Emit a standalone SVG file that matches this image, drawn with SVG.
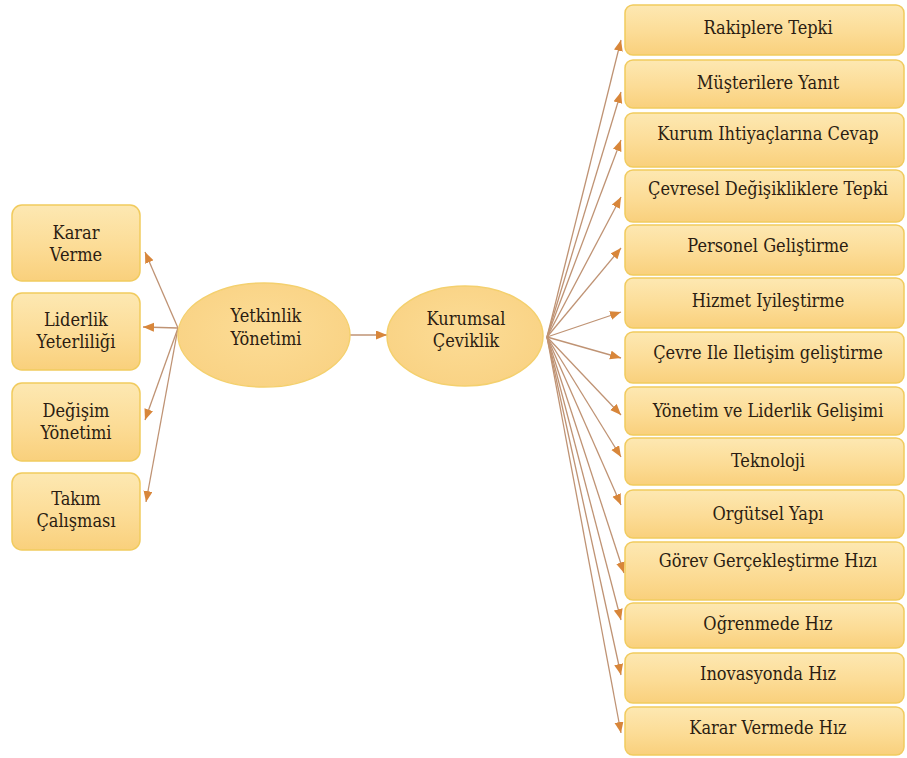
<svg xmlns="http://www.w3.org/2000/svg" width="907" height="758" viewBox="0 0 907 758">
<defs>
<linearGradient id="boxg" x1="0" y1="0" x2="0" y2="1">
<stop offset="0" stop-color="#fde8b2"/>
<stop offset="0.55" stop-color="#fcdc96"/>
<stop offset="1" stop-color="#f9d07c"/>
</linearGradient>
<radialGradient id="ellg" cx="0.5" cy="0.45" r="0.6">
<stop offset="0" stop-color="#fcdc96"/>
<stop offset="1" stop-color="#f9d283"/>
</radialGradient>
<marker id="ah" markerUnits="userSpaceOnUse" markerWidth="12" markerHeight="10" refX="11" refY="4.5" orient="auto">
<path d="M0,0 L11,4.5 L0,9 z" fill="#d8863a"/>
</marker>
<style>
.box{fill:url(#boxg);stroke:#f1cb5e;stroke-width:1.5}
.ell{fill:url(#ellg);stroke:#f4d06e;stroke-width:1.5}
.t{font-family:"DejaVu Serif Condensed","DejaVu Serif",serif;font-stretch:condensed;font-size:18px;fill:#2b1d12;text-anchor:middle}
.c{stroke:#bf9374;stroke-width:1.3;fill:none;marker-end:url(#ah)}
</style>
</defs>
<g id="connectors">
<line class="c" x1="178" y1="328" x2="145" y2="252"/>
<line class="c" x1="178" y1="328" x2="143" y2="327"/>
<line class="c" x1="178" y1="328" x2="145" y2="420"/>
<line class="c" x1="178" y1="328" x2="146" y2="502"/>
<line class="c" x1="350" y1="335" x2="387" y2="335"/>
<line class="c" x1="547" y1="337" x2="621" y2="40"/>
<line class="c" x1="547" y1="337" x2="621" y2="92"/>
<line class="c" x1="547" y1="337" x2="621" y2="140"/>
<line class="c" x1="547" y1="337" x2="621" y2="197"/>
<line class="c" x1="547" y1="337" x2="621" y2="248"/>
<line class="c" x1="547" y1="337" x2="621" y2="312"/>
<line class="c" x1="547" y1="337" x2="621" y2="358"/>
<line class="c" x1="547" y1="337" x2="621" y2="415"/>
<line class="c" x1="547" y1="337" x2="621" y2="457"/>
<line class="c" x1="547" y1="337" x2="621" y2="505"/>
<line class="c" x1="547" y1="337" x2="624" y2="573"/>
<line class="c" x1="547" y1="337" x2="621" y2="620"/>
<line class="c" x1="547" y1="337" x2="621" y2="675"/>
<line class="c" x1="547" y1="337" x2="621" y2="733"/>
</g>
<g id="karar-verme"><rect class="box" x="12" y="205" width="128" height="76" rx="10"/><text class="t" x="76" y="239">Karar</text><text class="t" x="76" y="261">Verme</text></g>
<g id="liderlik"><rect class="box" x="12" y="293" width="128" height="77" rx="10"/><text class="t" x="76" y="326">Liderlik</text><text class="t" x="76" y="348">Yeterliliği</text></g>
<g id="degisim"><rect class="box" x="12" y="383" width="128" height="78" rx="10"/><text class="t" x="76" y="417">Değişim</text><text class="t" x="76" y="439">Yönetimi</text></g>
<g id="takim"><rect class="box" x="12" y="473" width="128" height="77" rx="10"/><text class="t" x="76" y="505">Takım</text><text class="t" x="76" y="527">Çalışması</text></g>
<g id="yetkinlik"><ellipse class="ell" cx="264" cy="335" rx="86" ry="52"/><text class="t" x="266" y="322">Yetkinlik</text><text class="t" x="266" y="345">Yönetimi</text></g>
<g id="kurumsal"><ellipse class="ell" cx="465" cy="336" rx="78" ry="50"/><text class="t" x="466" y="325">Kurumsal</text><text class="t" x="466" y="347">Çeviklik</text></g>
<g id="r1"><rect class="box" x="625" y="5" width="279" height="50" rx="8"/><text class="t" x="768" y="34">Rakiplere Tepki</text></g>
<g id="r2"><rect class="box" x="625" y="60" width="279" height="48" rx="8"/><text class="t" x="768" y="89">Müşterilere Yanıt</text></g>
<g id="r3"><rect class="box" x="625" y="113" width="279" height="54" rx="8"/><text class="t" x="768" y="140">Kurum Ihtiyaçlarına Cevap</text></g>
<g id="r4"><rect class="box" x="625" y="170" width="279" height="52" rx="8"/><text class="t" x="768" y="195">Çevresel Değişikliklere Tepki</text></g>
<g id="r5"><rect class="box" x="625" y="225" width="279" height="50" rx="8"/><text class="t" x="768" y="252">Personel Geliştirme</text></g>
<g id="r6"><rect class="box" x="625" y="278" width="279" height="50" rx="8"/><text class="t" x="768" y="307">Hizmet Iyileştirme</text></g>
<g id="r7"><rect class="box" x="625" y="332" width="279" height="51" rx="8"/><text class="t" x="768" y="359">Çevre Ile Iletişim geliştirme</text></g>
<g id="r8"><rect class="box" x="625" y="387" width="279" height="48" rx="8"/><text class="t" x="768" y="417">Yönetim ve Liderlik Gelişimi</text></g>
<g id="r9"><rect class="box" x="625" y="438" width="279" height="47" rx="8"/><text class="t" x="768" y="467">Teknoloji</text></g>
<g id="r10"><rect class="box" x="625" y="490" width="279" height="48" rx="8"/><text class="t" x="768" y="520">Orgütsel Yapı</text></g>
<g id="r11"><rect class="box" x="625" y="542" width="279" height="58" rx="8"/><text class="t" x="768" y="567">Görev Gerçekleştirme Hızı</text></g>
<g id="r12"><rect class="box" x="625" y="603" width="279" height="45" rx="8"/><text class="t" x="768" y="630">Oğrenmede Hız</text></g>
<g id="r13"><rect class="box" x="625" y="653" width="279" height="50" rx="8"/><text class="t" x="768" y="680">Inovasyonda Hız</text></g>
<g id="r14"><rect class="box" x="625" y="707" width="279" height="48" rx="8"/><text class="t" x="768" y="734">Karar Vermede Hız</text></g>
</svg>
